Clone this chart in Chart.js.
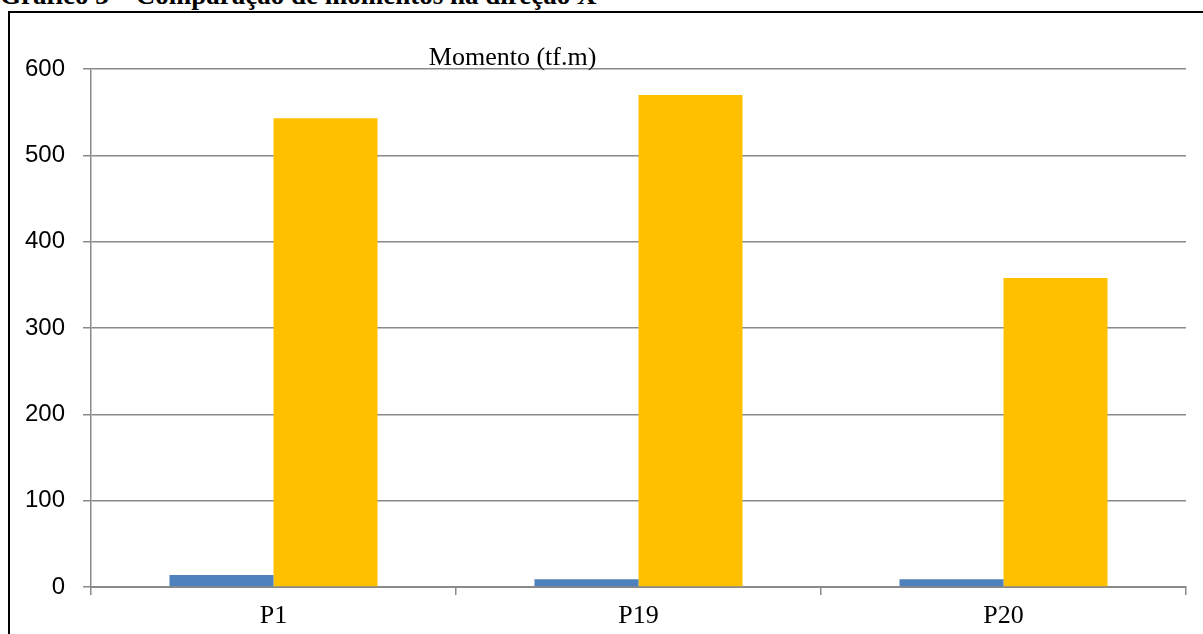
<!DOCTYPE html>
<html lang="pt">
<head>
<meta charset="utf-8">
<title>Gráfico 3 – Comparação de momentos na direção X</title>
<script src="https://cdn.jsdelivr.net/npm/chart.js@4.4.1/dist/chart.umd.min.js"></script>
<style>
  html, body { margin: 0; padding: 0; background: #fff; overflow: hidden; }
  body { width: 1203px; height: 634px; position: relative; }
  #caption {
    position: absolute; left: 0; top: -18px;
    font: bold 27px/27px "Liberation Serif", "Times New Roman", serif;
    color: #000; white-space: nowrap;
  }
  #frame {
    position: absolute; left: 8px; top: 11px; width: 1300px; height: 700px;
    border-left: 2px solid #000; border-top: 2px solid #000;
  }
  #wrap { position: absolute; left: 0; top: 0; width: 1203px; height: 634px; }
</style>
</head>
<body>
<div id="caption">Gráfico 3 – Comparação de momentos na direção X</div>
<div id="frame"></div>
<div id="wrap"><canvas id="chart" width="1203" height="634"></canvas></div>
<script>
// Pilares analisados e momentos (tf.m) por série
const categories = ['P1', 'P19', 'P20'];
const serie1 = [14, 9, 9];
const serie2 = [543, 570, 358];
const yTicks = [0, 100, 200, 300, 400, 500, 600];

const gridColor = '#8a8a8a';

// Título "Momento (tf.m)" desenhado sobre a área do gráfico
const chartTitle = {
  id: 'chartTitle',
  afterDraw(chart) {
    const { ctx, chartArea } = chart;
    ctx.save();
    ctx.font = '26px "Liberation Serif", "Times New Roman", serif';
    ctx.fillStyle = '#000';
    ctx.textAlign = 'center';
    ctx.textBaseline = 'alphabetic';
    ctx.fillText('Momento (tf.m)', chartArea.left + chartArea.width * 0.385, chartArea.top - 4);
    ctx.restore();
  }
};

new Chart(document.getElementById('chart'), {
  type: 'bar',
  data: {
    labels: categories,
    datasets: [
      { label: 'Série 1', data: serie1, backgroundColor: '#4F81BD', borderWidth: 0 },
      { label: 'Série 2', data: serie2, backgroundColor: '#FFC000', borderWidth: 0 }
    ]
  },
  options: {
    responsive: false,
    animation: false,
    devicePixelRatio: 1,
    layout: { padding: { left: 10, right: 17, top: 69, bottom: 0 } },
    datasets: { bar: { categoryPercentage: 0.57, barPercentage: 1.0 } },
    plugins: {
      legend: { display: false },
      title: { display: false },
      tooltip: { enabled: false }
    },
    scales: {
      x: {
        grid: {
          offset: true,
          drawOnChartArea: false,
          drawTicks: true,
          tickLength: 8,
          color: gridColor,
          lineWidth: 1.5
        },
        border: { color: gridColor, width: 2 },
        ticks: {
          color: '#000',
          padding: 6,
          font: { family: '"Liberation Serif", "Times New Roman", serif', size: 26 }
        },
        afterFit(scale) { scale.height = 47; }
      },
      y: {
        min: 0,
        max: 600,
        afterBuildTicks(scale) { scale.ticks = yTicks.map(v => ({ value: v })); },
        grid: {
          color: gridColor,
          lineWidth: 1.5,
          drawTicks: true,
          tickLength: 8
        },
        border: { color: gridColor, width: 1.5 },
        ticks: {
          color: '#000',
          padding: 18,
          font: { family: '"Liberation Sans", Arial, sans-serif', size: 24 }
        },
        afterFit(scale) { scale.width = 81; }
      }
    }
  },
  plugins: [chartTitle]
});
</script>
</body>
</html>
